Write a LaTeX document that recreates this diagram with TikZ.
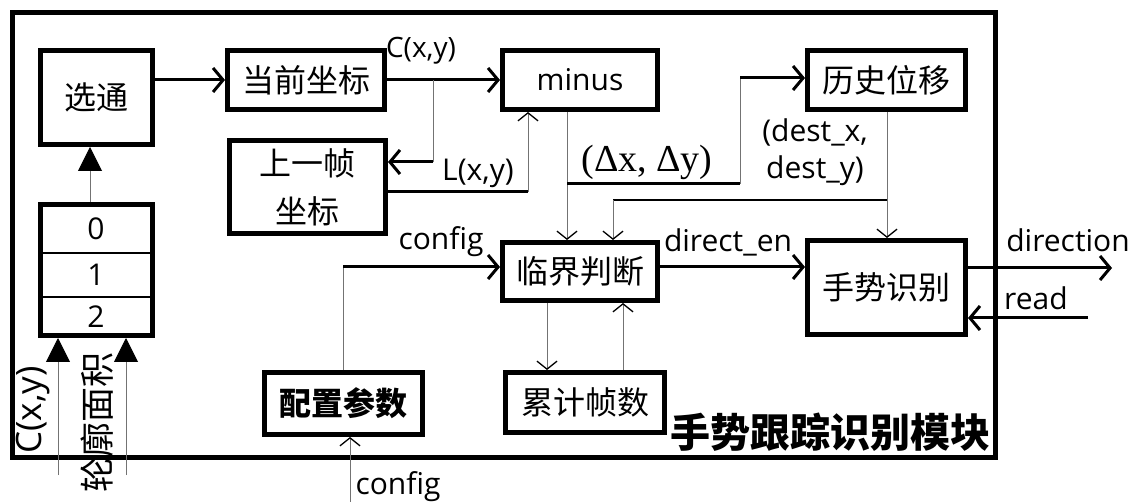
\documentclass[tikz,border=0pt]{standalone}
\usepackage{fontspec}
\setmainfont{Open Sans}
\newfontfamily\cjk{Noto Sans CJK SC}
\newfontfamily\grk{Liberation Serif}
\usetikzlibrary{arrows.meta}
\tikzset{
  box/.style={draw, line width=5pt, inner sep=0pt, font=\cjk\fontsize{32}{48}\selectfont},
  lbl/.style={inner sep=0pt, font=\fontsize{30}{36}\selectfont},
  thk/.style={line width=3pt},
  thinl/.style={line width=1pt, draw=black!55},
  tarr/.style={-{Straight Barb[length=10pt,width=24pt]}},
  tharr/.style={-{Straight Barb[length=8pt,width=20pt,line width=1.3pt,color=black]}},
  farr/.style={-{Triangle[length=24pt,width=24pt,color=black]}}
}
\begin{document}
\begin{tikzpicture}[x=1pt,y=-1pt]
\useasboundingbox (0,0) rectangle (1140,502);
% frame
\node[draw, line width=5pt, minimum width=983pt, minimum height=445pt, inner sep=0pt] (frame) at (504,235) {};
\node[inner sep=0pt, font=\cjk\bfseries\fontsize{40}{44}\selectfont] (ttl) at (830,432) {手势跟踪识别模块};
% boxes
\node[box, minimum width=112pt, minimum height=94pt] (xt) at (96.5,97.5) {选通};
\node[box, minimum width=157pt, minimum height=59pt] (cur) at (306,80) {当前坐标};
\node[box, minimum width=156pt, minimum height=93pt, align=center] (prev) at (307.5,187) {上一帧\\坐标};
\node[box, minimum width=155pt, minimum height=59pt, font=\fontsize{30}{36}\selectfont] (minus) at (580,80) {minus};
\node[box, minimum width=158pt, minimum height=59pt] (hist) at (886.5,80) {历史位移};
\node[box, minimum width=155pt, minimum height=58pt] (judge) at (580,271.5) {临界判断};
\node[box, minimum width=158pt, minimum height=94pt] (gest) at (886.5,287.5) {手势识别};
\node[box, minimum width=158pt, minimum height=62pt, font=\cjk\bfseries\fontsize{32}{40}\selectfont] (cfg) at (343.5,403.5) {配置参数};
\node[box, minimum width=159pt, minimum height=60pt] (cnt) at (585,402.5) {累计帧数};
% stack
\node[box, minimum width=112pt, minimum height=131pt] (stk) at (96.5,270) {};
\coordinate (d1) at (96,253);
\coordinate (d2) at (96,297);
\draw[line width=2pt] (d1 -| stk.west) -- (d1 -| stk.east);
\draw[line width=2pt] (d2 -| stk.west) -- (d2 -| stk.east);
\node[lbl] (s0) at (96,229) {0};
\node[lbl] (s1) at (96,275) {1};
\node[lbl] (s2) at (96,317) {2};
% stack to xt
\coordinate (a0) at (90,0);
\draw[thinl, farr] (a0 |- stk.north) -- (a0 |- xt.south);
\coordinate (in1) at (58,475);
\coordinate (in2) at (126,475);
\draw[thinl, farr] (in1) -- (in1 |- stk.south);
\draw[thinl, farr] (in2) -- (in2 |- stk.south);
\node[inner sep=0pt, rotate=90, font=\fontsize{35}{40}\selectfont] (lcr) at (33,410) {C(x,y)};
\node[inner sep=0pt, rotate=90, font=\cjk\fontsize{35}{40}\selectfont] (lkr) at (97,422) {轮廓面积};
% connectors
\draw[thk, tarr] (xt.east |- cur.west) -- (cur.west);
\draw[thk, tarr] (cur.east) -- (minus.west);
\coordinate (j1) at (433,80);
\coordinate (j1b) at (433,162);
\draw[thinl] (j1) -- (j1b);
\draw[thk, tarr] (j1b) -- (j1b -| prev.east);
\coordinate (jL) at (528,192);
\draw[thk] (jL -| prev.east) -- (jL);
\draw[thinl, tharr] (jL) -- (jL |- minus.south);
\coordinate (jD0) at (567,0);
\draw[thinl, tharr] (jD0 |- minus.south) -- (jD0 |- judge.north);
\coordinate (jD) at (567,184);
\coordinate (jD2) at (740,184);
\coordinate (jD3) at (740,78);
\draw[thk] (jD) -- (jD2);
\draw[thinl] (jD2) -- (jD3);
\draw[thk, tarr] (jD3) -- (jD3 -| hist.west);
\coordinate (jE) at (887,200);
\coordinate (jE2) at (613,200);
\draw[thinl, tharr] (jE |- hist.south) -- (jE |- gest.north);
\draw[line width=2pt] (jE) -- (jE2);
\draw[thinl, tharr] (jE2) -- (jE2 |- judge.north);
\coordinate (jc) at (343,267);
\draw[thinl] (jc |- cfg.north) -- (jc);
\draw[thk, tarr] (jc) -- (jc -| judge.west);
\draw[thk, tarr] (jc -| judge.east) -- (jc -| gest.west);
\coordinate (k1) at (547,0);
\coordinate (k2) at (623,0);
\draw[thinl, tharr] (k1 |- judge.south) -- (k1 |- cnt.north);
\draw[thinl, tharr] (k2 |- cnt.north) -- (k2 |- judge.south);
\coordinate (out) at (1112,268);
\draw[thk, tarr] (out -| gest.east) -- (out);
\coordinate (rd) at (1088,318);
\draw[thk, tarr] (rd) -- (rd -| gest.east);
\coordinate (cin) at (350,502);
\draw[thinl, tharr] (cin) -- (cin |- cfg.south);
% labels
\node[lbl, font=\fontsize{28}{34}\selectfont] (lc1) at (421,51) {C(x,y)};
\node[lbl] (ll) at (478,173) {L(x,y)};
\node[inner sep=0pt, font=\grk\fontsize{38}{40}\selectfont] (ld) at (647,162) {(Δx, Δy)};
\node[lbl, align=center, font=\fontsize{30}{37}\selectfont] (lde) at (815,152) {(dest\_x,\\dest\_y)};
\node[lbl] (lcf) at (441,242) {config};
\node[lbl] (lden) at (728,242) {direct\_en};
\node[lbl] (ldir) at (1068,240) {direction};
\node[lbl] (lrd) at (1036,298) {read};
\node[lbl] (lcf2) at (398,487) {config};
\end{tikzpicture}
\end{document}
